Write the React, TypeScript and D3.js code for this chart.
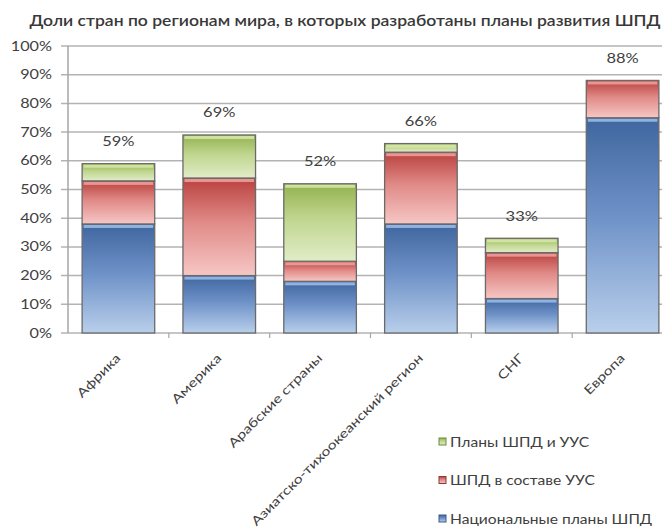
import React from 'react';
import * as d3 from 'd3';

const categories = ['Африка', 'Америка', 'Арабские страны', 'Азиатско-тихоокеанский регион', 'СНГ', 'Европа'];
const nationalPlans = [38, 20, 18, 38, 12, 75];
const inUUS = [15, 34, 7, 25, 16, 13];
const plansAndUUS = [6, 15, 27, 3, 5, 0];
const totals = [59, 69, 52, 66, 33, 88];
const yTicks = [0, 10, 20, 30, 40, 50, 60, 70, 80, 90, 100];
const seriesNames = ['Национальные планы ШПД', 'ШПД в составе УУС', 'Планы ШПД и УУС'];
const title = 'Доли стран по регионам мира, в которых разработаны планы развития ШПД';

const W = 667;
const H = 529;
const M = { left: 68, right: 673, top: 46, bottom: 333 };
const gridRight = 662;

const seriesStyles = [
  { id: 'gBlue', top: '#40669f', mid: '#6d91c7', bottom: '#b9cfeb', hi: '#9cc0ec', stroke: '#3c5a8a' },
  { id: 'gRed', top: '#b9413e', mid: '#e08a87', bottom: '#f6c7c5', hi: '#f0a3a0', stroke: '#8c3a38' },
  { id: 'gGreen', top: '#93b24f', mid: '#c0d68f', bottom: '#e1ecc8', hi: '#d8e9ab', stroke: '#6f8a3a' },
];

const font = 'Lato, "Open Sans", sans-serif';
const textColor = '#404040';

function SText(props: {
  x: number; y: number; sx?: number; rotate?: number; anchor?: string; size: number;
  weight?: number; fill?: string; children: React.ReactNode; dy?: string;
}) {
  const { x, y, sx = 1.28, rotate = 0, anchor = 'start', size, weight = 400, fill = textColor, children, dy } = props;
  return (
    <text
      transform={`translate(${x},${y}) rotate(${rotate}) scale(${sx},1)`}
      textAnchor={anchor}
      fontSize={size}
      fontWeight={weight}
      fill={fill}
      dy={dy}
    >
      {children}
    </text>
  );
}

export default function App() {
  const x = d3.scaleBand<string>().domain(categories).range([M.left, M.right]).paddingInner(0.28).paddingOuter(0.14);
  const y = d3.scaleLinear().domain([0, 100]).range([M.bottom, M.top]);

  const rows = categories.map((c, i) => ({
    cat: c,
    s0: nationalPlans[i],
    s1: inUUS[i],
    s2: plansAndUUS[i],
  }));
  const stack = d3.stack<any>().keys(['s0', 's1', 's2'])(rows);
  const boundary = (c: string) => (x(c) as number) - (x.step() * x.paddingInner()) / 2;

  return (
    <svg width={W} height={H} style={{ position: 'absolute', left: 0, top: 0, background: '#fff' }} fontFamily={font}>
      <defs>
        {seriesStyles.map((s) => (
          <linearGradient key={s.id} id={s.id} x1="0" y1="0" x2="0" y2="1">
            <stop offset="0" stopColor={s.top} />
            <stop offset="0.45" stopColor={s.mid} />
            <stop offset="1" stopColor={s.bottom} />
          </linearGradient>
        ))}
      </defs>

      <SText x={345} y={25.5} anchor="middle" size={14.5} weight={600} fill="#383838" sx={1.21}>
        {title}
      </SText>

      {/* gridlines */}
      {yTicks.map((t) => (
        <g key={t}>
          <line x1={M.left - 7} x2={gridRight} y1={y(t)} y2={y(t)} stroke="#b3b3b3" strokeWidth={1.5} />
          <SText x={52} y={y(t)} dy="0.36em" anchor="end" size={12.5} sx={1.3}>
            {t}%
          </SText>
        </g>
      ))}
      <line x1={M.left} x2={M.left} y1={M.top} y2={M.bottom} stroke="#a6a6a6" strokeWidth={1.5} />

      {/* category ticks */}
      {categories.slice(1).map((c) => (
        <line key={c} x1={boundary(c)} x2={boundary(c)} y1={M.bottom} y2={M.bottom + 5} stroke="#a6a6a6" strokeWidth={1.2} />
      ))}

      {/* bars */}
      {stack.map((layer, si) => (
        <g key={si}>
          {layer.map((d, i) => {
            const v = d[1] - d[0];
            if (v <= 0) return null;
            const x0 = x(categories[i]) as number;
            const y0 = y(d[1]);
            const h = y(d[0]) - y(d[1]);
            const s = seriesStyles[si];
            return (
              <g key={i}>
                <rect x={x0} y={y0} width={x.bandwidth()} height={h} fill={`url(#${s.id})`} stroke="#6a6a6a" strokeWidth={1.3} />
                <rect x={x0 + 1.5} y={y0 + 1} width={x.bandwidth() - 3} height={Math.min(3, h - 1)} fill={s.hi} opacity={0.85} />
              </g>
            );
          })}
        </g>
      ))}

      {/* total labels */}
      {totals.map((t, i) => (
        <SText key={i} x={(x(categories[i]) as number) + x.bandwidth() / 2} y={y(t) - 22} dy="0.36em" anchor="middle" size={12.5} sx={1.32}>
          {t}%
        </SText>
      ))}

      {/* category labels */}
      {categories.map((c) => {
        const cx = (x(c) as number) + x.bandwidth() / 2 + 3;
        return (
          <SText key={c} x={cx} y={M.bottom + 26} rotate={-45} anchor="end" size={12.5} sx={1.27}>
            {c}
          </SText>
        );
      })}

      {/* legend */}
      {[2, 1, 0].map((si, k) => {
        const ly = 442 + k * 38.5;
        const s = seriesStyles[si];
        return (
          <g key={si}>
            <rect x={439} y={ly - 4} width={7} height={7} fill={`url(#${s.id})`} stroke={s.stroke} strokeWidth={1} />
            <SText x={450} y={ly} dy="0.36em" size={13} sx={1.2}>
              {seriesNames[si]}
            </SText>
          </g>
        );
      })}
    </svg>
  );
}
